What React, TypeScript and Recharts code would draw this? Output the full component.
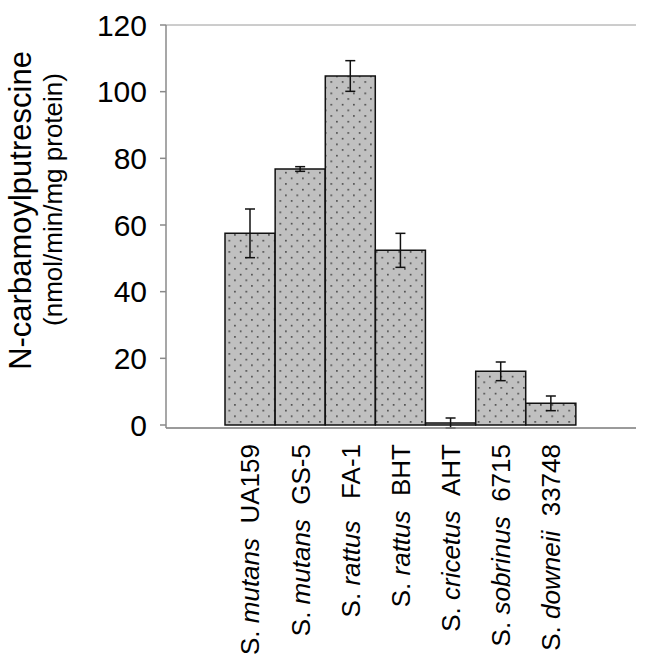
import React from "react";
import { BarChart, Bar, XAxis, YAxis, CartesianGrid, ErrorBar, Label } from "recharts";

const genus = ["S.", "S.", "S.", "S.", "S.", "S.", "S."];
const species = ["mutans", "mutans", "rattus", "rattus", "cricetus", "sobrinus", "downeii"];
const strains = ["UA159", "GS-5", "FA-1", "BHT", "AHT", "6715", "33748"];
const gaps = ["\u00A0\u00A0", "\u00A0\u00A0", "\u00A0\u00A0\u00A0", "\u00A0\u00A0", "\u00A0\u00A0", "\u00A0\u00A0", "\u00A0\u00A0"];
const values = [57.5, 76.8, 104.7, 52.4, 0.6, 16.1, 6.5];
const errors = [7.3, 0.7, 4.6, 5.1, 1.5, 2.8, 2.2];
const yTicks = [0, 20, 40, 60, 80, 100, 120];

const data = strains.map((s, i) => ({
  name: `${genus[i]} ${species[i]} ${s}`,
  idx: i,
  value: values[i],
  err: errors[i],
}));

const FONT = "'Liberation Sans', Arial, Helvetica, sans-serif";

const XTick = (props: any) => {
  const { x, y, payload } = props;
  const i = payload.index;
  const fs = 26;
  return (
    <g transform={`translate(${x},${y + 10})`}>
      <text
        transform="rotate(-90)"
        textAnchor="end"
        x={0}
        y={0}
        dy={fs * 0.36}
        fontSize={fs}
        fontFamily={FONT}
        fill="#000"
      >
        <tspan>{genus[i] + "\u00A0"}</tspan>
        <tspan fontStyle="italic">{species[i]}</tspan>
        <tspan>{gaps[i] + strains[i]}</tspan>
      </text>
    </g>
  );
};

const YTitle = (props: any) => {
  const vb = props.viewBox || { x: 0, y: 25, width: 166, height: 403 };
  const cy = vb.y + vb.height / 2;
  return (
    <g>
      <text
        transform={`translate(31,${cy - 16}) rotate(-90)`}
        textAnchor="middle"
        fontSize={31}
        fontFamily={FONT}
        fill="#000"
      >
        N-carbamoylputrescine
      </text>
      <text
        transform={`translate(62,${cy - 27}) rotate(-90)`}
        textAnchor="middle"
        fontSize={26}
        fontFamily={FONT}
        fill="#000"
      >
        (nmol/min/mg protein)
      </text>
    </g>
  );
};

export default function App() {
  return (
    <div style={{ position: "absolute", left: 0, top: 0, background: "#fff" }}>
      <BarChart
        width={647}
        height={670}
        data={data}
        margin={{ top: 25, right: 11, bottom: 0, left: 0 }}
        barCategoryGap={0}
        barGap={0}
      >
        <defs>
          <pattern id="dots" width={11.33} height={11.33} patternUnits="userSpaceOnUse">
            <rect x={0} y={0} width={11.33} height={11.33} fill="#c0c0c0" />
            <rect x={2} y={2} width={1.4} height={1.4} fill="#1a1a1a" />
            <rect x={7.67} y={7.67} width={1.4} height={1.4} fill="#1a1a1a" />
          </pattern>
        </defs>
        <CartesianGrid vertical={false} stroke="#9a9a9a" strokeWidth={1} />
        <XAxis
          dataKey="name"
          interval={0}
          padding={{ left: 59, right: 60 }}
          height={242}
          axisLine={{ stroke: "#8a8a8a", strokeWidth: 1.5 }}
          tickLine={false}
          tick={<XTick />}
          tickMargin={0}
        />
        <YAxis
          yAxisId="left"
          width={166}
          domain={[0, 120]}
          ticks={yTicks}
          interval={0}
          tickSize={6}
          tickMargin={13}
          axisLine={{ stroke: "#8a8a8a", strokeWidth: 1.5 }}
          tickLine={{ stroke: "#8a8a8a", strokeWidth: 1.5 }}
          tick={{ fontSize: 30, fontFamily: FONT, fill: "#000" }}
        >
          <Label content={<YTitle />} />
        </YAxis>
        <YAxis
          yAxisId="right"
          orientation="right"
          width={0}
          domain={[0, 120]}
          tick={false}
          tickLine={false}
          axisLine={{ stroke: "#8a8a8a", strokeWidth: 1.5 }}
        />
        <Bar
          yAxisId="left"
          dataKey="value"
          fill="url(#dots)"
          stroke="#111"
          strokeWidth={1.5}
          isAnimationActive={false}
        >
          <ErrorBar dataKey="err" width={5} stroke="#111" strokeWidth={1.5} direction="y" />
        </Bar>
      </BarChart>
    </div>
  );
}
